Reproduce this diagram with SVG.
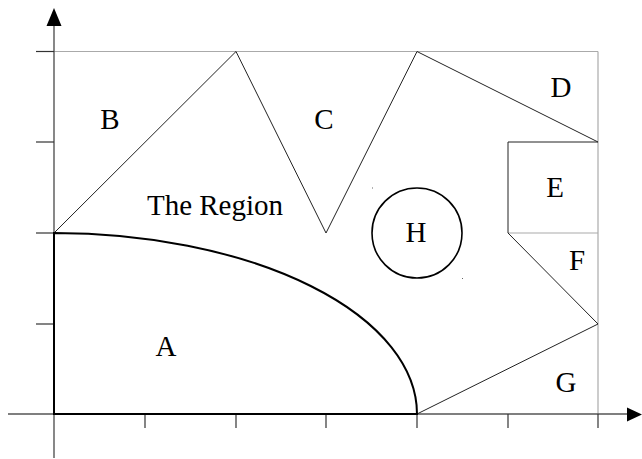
<svg xmlns="http://www.w3.org/2000/svg" width="642" height="459" viewBox="0 0 642 459">
<style>
.grid{stroke:#aaaaaa;stroke-width:1.2;fill:none}
.axis{stroke:#555555;stroke-width:1.4;fill:none}
.tick{stroke:#333333;stroke-width:1.2;fill:none}
.thin{stroke:#222222;stroke-width:1;fill:none}
.bold{stroke:#000000;stroke-width:2;fill:none}
.lbl{font-family:"Liberation Serif",serif;font-size:29px;fill:#000;text-anchor:middle}
</style>
<rect width="642" height="459" fill="#ffffff"/>
<g id="grid">
<line class="grid" x1="54" y1="51.5" x2="598" y2="51.5"/>
<line class="grid" x1="598" y1="51.5" x2="598" y2="414"/>
<line class="grid" x1="508" y1="233" x2="598" y2="233"/>
</g>
<g id="axes">
<line class="axis" x1="8" y1="414" x2="630" y2="414"/>
<line class="axis" x1="54" y1="458" x2="54" y2="24"/>
<polygon points="642,414.5 627,407.5 627,421.5" fill="#000"/>
<polygon points="54,8 46.5,26 61.5,26" fill="#000"/>
<line class="tick" x1="36" y1="51.5" x2="54" y2="51.5"/>
<line class="tick" x1="36" y1="142" x2="54" y2="142"/>
<line class="tick" x1="36" y1="233" x2="54" y2="233"/>
<line class="tick" x1="36" y1="324" x2="54" y2="324"/>
<line class="tick" x1="145" y1="414" x2="145" y2="428"/>
<line class="tick" x1="236" y1="414" x2="236" y2="428"/>
<line class="tick" x1="326" y1="414" x2="326" y2="428"/>
<line class="tick" x1="417" y1="414" x2="417" y2="428"/>
<line class="tick" x1="508" y1="414" x2="508" y2="428"/>
<line class="tick" x1="598" y1="414" x2="598" y2="428"/>
</g>
<g id="connectors">
<polyline class="thin" points="54,233 236,51.5 326,233 417,51.5 598,142"/>
<polyline class="thin" points="598,142 508,142 508,233 598,324 417,414"/>
</g>
<g id="A">
<path class="bold" d="M54,233 A363,181 0 0 1 417,414 L54,414 Z"/>
<text class="lbl" x="166" y="356">A</text>
</g>
<g id="B"><text class="lbl" x="110" y="129">B</text></g>
<g id="C"><text class="lbl" x="324" y="129">C</text></g>
<g id="D"><text class="lbl" x="561" y="97">D</text></g>
<g id="E"><text class="lbl" x="555" y="197">E</text></g>
<g id="F"><text class="lbl" x="577" y="270">F</text></g>
<g id="G"><text class="lbl" x="566" y="392">G</text></g>
<g id="H">
<circle class="bold" cx="417" cy="233" r="45" style="stroke-width:1.6"/>
<text class="lbl" x="416" y="242">H</text>
<rect x="372" y="187.5" width="1" height="1" fill="#666"/>
<rect x="462" y="278" width="1" height="1" fill="#666"/>
</g>
<g id="region"><text class="lbl" x="215" y="215">The Region</text></g>
</svg>
